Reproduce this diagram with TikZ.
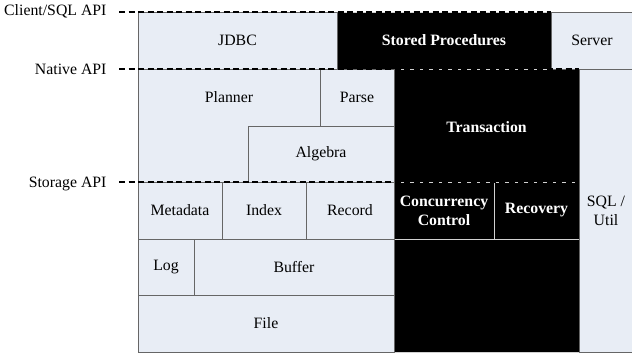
\documentclass[tikz,border=0pt]{standalone}
\usepackage{fontspec}
\setmainfont{Liberation Serif}
\definecolor{boxfill}{HTML}{E8EDF5}
\definecolor{edgegray}{HTML}{666666}

\begin{document}
\begin{tikzpicture}[x=1pt,y=-1pt,
  font=\fontsize{15.8}{19}\selectfont,
  lightbox/.style={fill=boxfill,draw=edgegray,line width=1pt},
  darkbox/.style={fill=black,draw=black!18,line width=1pt},
  darklbl/.style={text=white,font=\fontsize{15.8}{19}\selectfont\bfseries,align=center},
  apilbl/.style={anchor=base east},
  apiline/.style={dash pattern=on 6pt off 3.5pt,line width=1.2pt}]
  \useasboundingbox (0,0) rectangle (632,354);
  % black blocks
  \draw[darkbox] (337,12) rectangle (551,69);
  \draw[darkbox] (394,69) rectangle (579,182);
  \draw[darkbox] (394,182) rectangle (494,239);
  \draw[darkbox] (494,182) rectangle (579,239);
  \draw[darkbox] (394,239) rectangle (579,352);
  \node[darklbl] (sproc) at (444,40.5) {Stored Procedures};
  \node[darklbl] (trans) at (486.5,127) {Transaction};
  \node[darklbl] (conc) at (444,210.5) {Concurrency\\Control};
  \node[darklbl] (recov) at (536.5,210.5) {Recovery};
  % light blocks
  \draw[lightbox] (138,12) rectangle (337,69);
  \draw[lightbox] (551,12) rectangle (633,69);
  \draw[lightbox] (138,69) -- (320,69) -- (320,126) -- (248,126) -- (248,182) -- (138,182) -- cycle;
  \draw[lightbox] (320,69) rectangle (394,126);
  \draw[lightbox] (248,126) rectangle (394,182);
  \draw[lightbox] (579,69) rectangle (633,352);
  \draw[lightbox] (138,182) rectangle (222,239);
  \draw[lightbox] (222,182) rectangle (306,239);
  \draw[lightbox] (306,182) rectangle (394,239);
  \draw[lightbox] (138,239) rectangle (194,295);
  \draw[lightbox] (194,239) rectangle (394,295);
  \draw[lightbox] (138,295) rectangle (394,352);
  \node (jdbc) at (237.5,40.5) {JDBC};
  \node (server) at (592,40.5) {Server};
  \node (planner) at (229,97.5) {Planner};
  \node (parse) at (357,97.5) {Parse};
  \node (algebra) at (321,154) {Algebra};
  \node[align=center] (sqlutil) at (606,210.5) {SQL /\\Util};
  \node (meta) at (180,210.5) {Metadata};
  \node (index) at (264,210.5) {Index};
  \node (record) at (350,210.5) {Record};
  \node (log) at (166,267) {Log};
  \node (buffer) at (294,267) {Buffer};
  \node (file) at (266,323.5) {File};
  % API levels
  \node[apilbl] (cliapi) at (110,15.5) {Client/SQL API};
  \node[apilbl] (natapi) at (110,74.5) {Native API};
  \node[apilbl] (stoapi) at (110,187.5) {Storage API};
  \coordinate (cliA) at (119,12);  \coordinate (cliB) at (551,12);
  \coordinate (natA) at (119,69);  \coordinate (natB) at (579,69);
  \coordinate (stoA) at (119,182); \coordinate (stoB) at (579,182);
  \draw[apiline] (cliA) -- (cliB);
  \draw[apiline] (natA) -- (natB);
  \draw[apiline] (stoA) -- (stoB);
\end{tikzpicture}
\end{document}
